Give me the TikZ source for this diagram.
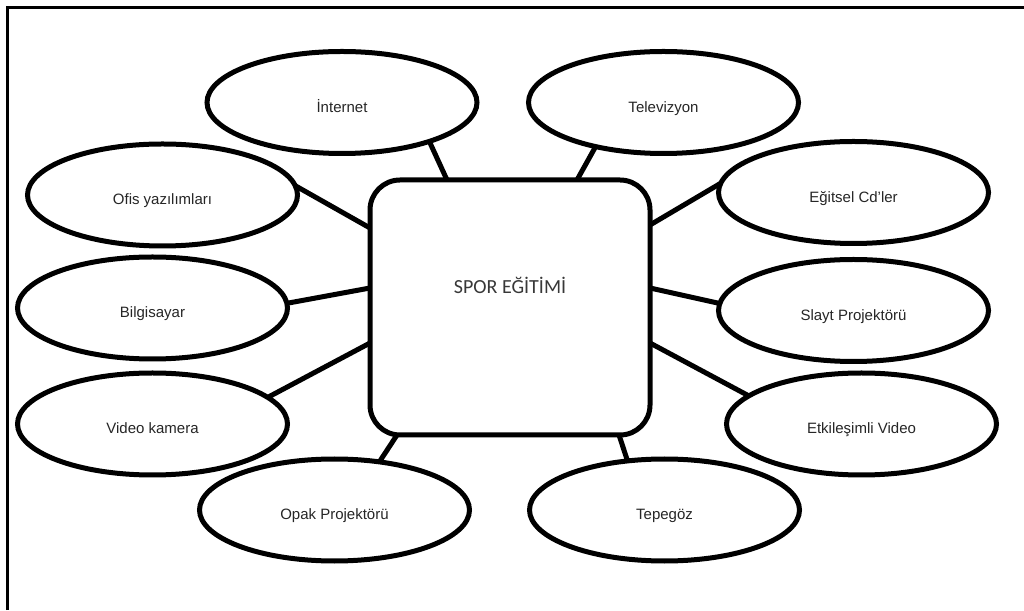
\documentclass[tikz,border=0pt]{standalone}
\usepackage{fontspec}
\setmainfont{Liberation Sans}
\newfontfamily\titlefont{Carlito}
\usetikzlibrary{shapes.geometric,calc}
\begin{document}
\begin{tikzpicture}[x=1pt,y=1pt,
  bubble/.style={ellipse,draw=black,line width=5pt,fill=white,minimum width=270pt,minimum height=102pt,inner sep=0pt,outer sep=0pt,font=\fontsize{15}{18}\selectfont,text=black!85,text height=23pt,text depth=3pt},
  hub/.style={rectangle,rounded corners=30pt,draw=black,line width=5pt,fill=white,minimum width=280pt,minimum height=255pt,outer sep=0pt},
  link/.style={line width=5pt,draw=black},
  frame/.style={line width=3pt,draw=black}]
\useasboundingbox (0,0) rectangle (1024,610);
\fill[white] (0,0) rectangle (1024,610);
% frame (top and left edges visible)
\coordinate (fbl) at (7.5,0);
\coordinate (ftl) at (7.5,602.5);
\coordinate (ftr) at (1024,602.5);
\draw[frame] (fbl) -- (ftl) -- (ftr);

% hub
\node[hub] (hub) at (510,302.5) {};
\node[font=\titlefont\fontsize{20}{24}\selectfont,text=black!78] (title) at (510,325) {SPOR EĞİTİMİ};

% bubbles
\node[bubble] (internet) at (342,507.5) {İnternet};
\node[bubble] (tv) at (663.5,507.5) {Televizyon};
\node[bubble] (ofis) at (162.5,415) {Ofis yazılımları};
\node[bubble] (cd) at (853.5,417.5) {Eğitsel Cd'ler};
\node[bubble] (pc) at (152.5,302) {Bilgisayar};
\node[bubble] (slayt) at (853.5,299.5) {Slayt Projektörü};
\node[bubble] (kamera) at (152.5,186) {Video kamera};
\node[bubble] (etk) at (861.5,186) {Etkileşimli Video};
\node[bubble] (opak) at (334.5,100) {Opak Projektörü};
\node[bubble] (tepe) at (664.5,100) {Tepegöz};

% attachment points on hub
\coordinate (hI) at ($(hub.north)+(-63,0)$);
\coordinate (hT) at ($(hub.north)+(67,0)$);
\coordinate (hO) at ($(hub.west)+(0,79.5)$);
\coordinate (hC) at ($(hub.east)+(0,82.5)$);
\coordinate (hB) at ($(hub.west)+(0,19.5)$);
\coordinate (hS) at ($(hub.east)+(0,19.5)$);
\coordinate (hK) at ($(hub.west)+(0,-35.5)$);
\coordinate (hE) at ($(hub.east)+(0,-35.5)$);
\coordinate (hP) at ($(hub.south)+(-113,0)$);
\coordinate (hG) at ($(hub.south)+(109,0)$);

% connectors
\draw[link] (internet.-24) -- (hI);
\draw[link] (tv.-147) -- (hT);
\draw[link] (ofis.4) -- (hO);
\draw[link] (cd.176) -- (hC);
\draw[link] (pc.2.5) -- (hB);
\draw[link] (slayt.177) -- (hS);
\draw[link] (kamera.13.6) -- (hK);
\draw[link] (etk.166) -- (hE);
\draw[link] (opak.47) -- (hP);
\draw[link] (tepe.127) -- (hG);
\end{tikzpicture}
\end{document}
